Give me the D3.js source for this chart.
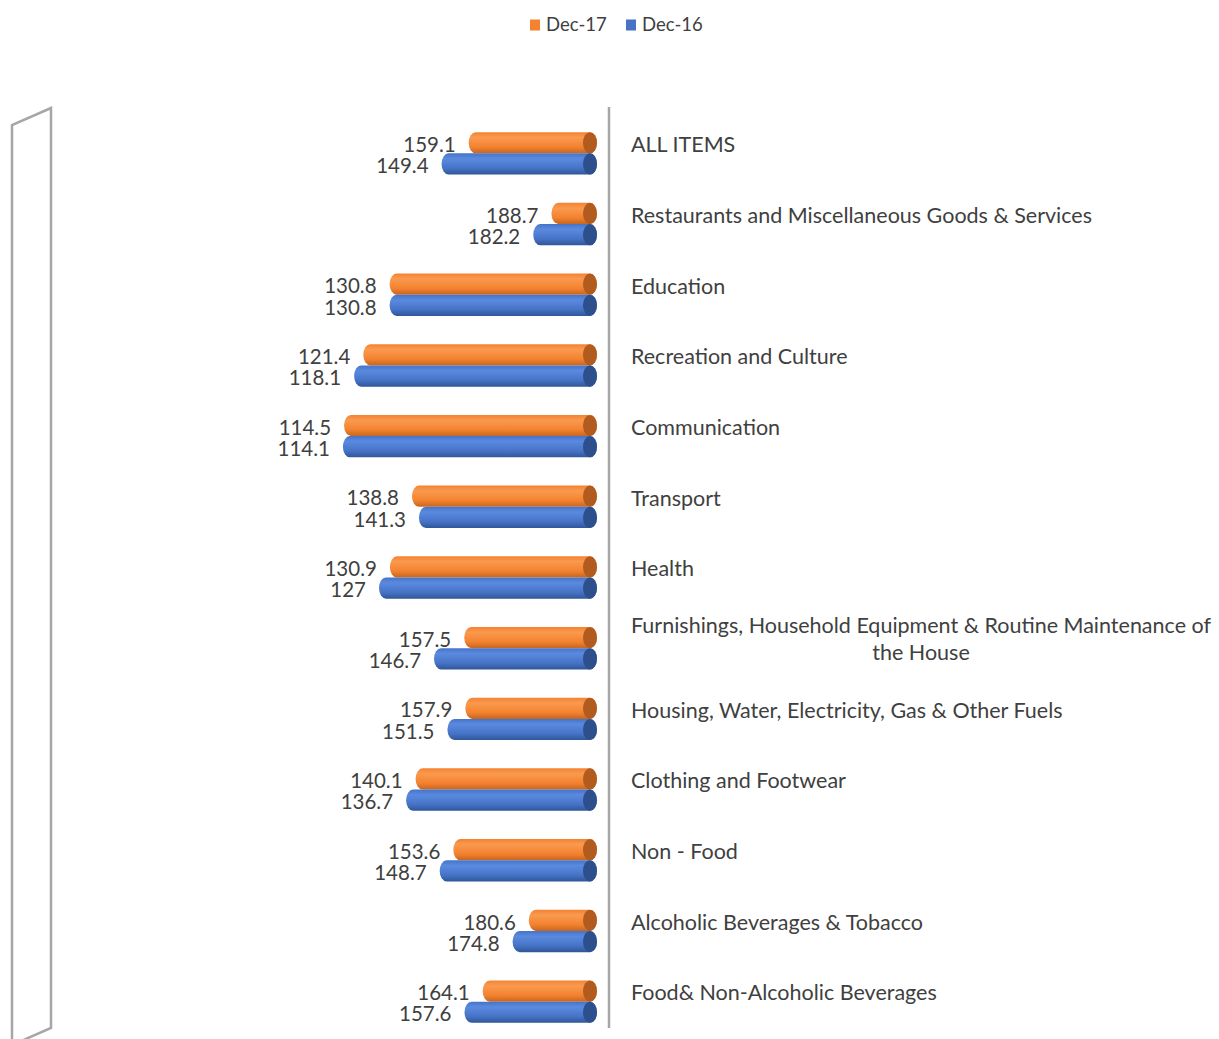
<!DOCTYPE html>
<html>
<head>
<meta charset="utf-8">
<script src="https://cdn.jsdelivr.net/npm/d3@7"></script>
<style>
  body { margin: 0; background: #fff; }
  svg { display: block; font-family: Lato, "Open Sans", sans-serif; }
</style>
</head>
<body>
<svg id="chart" width="1219" height="1039"></svg>
<script>
// categories, top to bottom as drawn
const categories = [
    'ALL ITEMS',
    'Restaurants and Miscellaneous Goods & Services',
    'Education',
    'Recreation and Culture',
    'Communication',
    'Transport',
    'Health',
    'Furnishings, Household Equipment & Routine Maintenance of the House',
    'Housing, Water, Electricity, Gas & Other Fuels',
    'Clothing and Footwear',
    'Non - Food',
    'Alcoholic Beverages & Tobacco',
    'Food& Non-Alcoholic Beverages'
];
const series = ['Dec-17', 'Dec-16'];
const dec17 = [159.1, 188.7, 130.8, 121.4, 114.5, 138.8, 130.9, 157.5, 157.9, 140.1, 153.6, 180.6, 164.1];
const dec16 = [149.4, 182.2, 130.8, 118.1, 114.1, 141.3, 127, 146.7, 151.5, 136.7, 148.7, 174.8, 157.6];

const palette = {
    'Dec-17': { light: '#f99a4f', mid: '#f4822f', dark: '#c7651f', cap: '#b15b1f' },
    'Dec-16': { light: '#5a8ae0', mid: '#4673c6', dark: '#2f5698', cap: '#2d4f8c' }
};

const svg = d3.select('#chart');
const textColor = '#404040';
const axisColor = '#a6a6a6';

// scales: bars run from the value out to the axis maximum on the right
const x = d3.scaleLinear().domain([0, 205]).range([24, 597]);
const y = d3.scaleBand().domain(categories).range([118, 1037])
    .paddingInner(0.4).paddingOuter(0.2);
const ySub = d3.scaleBand().domain(series).range([0, y.bandwidth()]);

// gradients for the cylinder bodies
const defs = svg.append('defs');
series.forEach((s, i) => {
    const g = defs.append('linearGradient')
        .attr('id', 'grad' + i)
        .attr('x1', 0).attr('y1', 0).attr('x2', 0).attr('y2', 1);
    g.append('stop').attr('offset', '0%').attr('stop-color', palette[s].mid);
    g.append('stop').attr('offset', '25%').attr('stop-color', palette[s].light);
    g.append('stop').attr('offset', '70%').attr('stop-color', palette[s].mid);
    g.append('stop').attr('offset', '100%').attr('stop-color', palette[s].dark);
});

// left floor panel (3D wall)
svg.append('path')
    .attr('d', 'M12,1045 L12,125 L51,108 L51,1028 Z')
    .attr('fill', 'none')
    .attr('stroke', axisColor)
    .attr('stroke-width', 2.5);

// category axis line
svg.append('line')
    .attr('x1', 609).attr('x2', 609)
    .attr('y1', 107).attr('y2', 1028)
    .attr('stroke', axisColor)
    .attr('stroke-width', 2.5);

const rows = categories.map((c, i) => ({
    cat: c,
    values: [
        { s: 'Dec-17', si: 0, v: dec17[i] },
        { s: 'Dec-16', si: 1, v: dec16[i] }
    ]
}));

const rx = 7;

function cylinderPath(x0, x1, top, h) {
    const ry = h / 2;
    return `M${x0 + rx},${top} L${x1 - rx},${top} A${rx},${ry} 0 0 1 ${x1 - rx},${top + h}`
        + ` L${x0 + rx},${top + h} A${rx},${ry} 0 0 1 ${x0 + rx},${top} Z`;
}

const group = svg.selectAll('g.row')
    .data(rows)
    .join('g')
    .attr('class', 'row')
    .attr('transform', (d) => `translate(0,${y(d.cat)})`);

const bar = group.selectAll('g.bar')
    .data((d) => d.values)
    .join('g')
    .attr('class', 'bar');

bar.append('path')
    .attr('d', (d) => cylinderPath(x(d.v), x.range()[1], ySub(d.s), ySub.bandwidth()))
    .attr('fill', (d) => `url(#grad${d.si})`);

bar.append('ellipse')
    .attr('cx', x.range()[1] - rx)
    .attr('cy', (d) => ySub(d.s) + ySub.bandwidth() / 2)
    .attr('rx', rx)
    .attr('ry', ySub.bandwidth() / 2)
    .attr('fill', (d) => palette[d.s].cap);

// value labels
bar.append('text')
    .attr('x', (d) => x(d.v) - 13)
    .attr('y', (d) => ySub(d.s) + ySub.bandwidth() / 2 + 4)
    .attr('text-anchor', 'end')
    .attr('dominant-baseline', 'middle')
    .attr('fill', textColor)
    .style('font-size', '20.5px')
    .text((d) => d.v);

// category labels, wrapped when too long
const maxW = 590;
group.each(function (d) {
    const g = d3.select(this);
    const t = g.append('text')
        .attr('fill', textColor)
        .style('font-size', '21.5px')
        .attr('dominant-baseline', 'middle');
    const cy = ySub('Dec-17') + ySub.bandwidth() / 2 + 4;
    t.text(d.cat);
    if (t.node().getComputedTextLength() <= maxW) {
        t.attr('x', 631).attr('y', cy);
        return;
    }
    const words = d.cat.split(' ');
    const lines = [];
    let line = [];
    t.text('');
    words.forEach((w) => {
        line.push(w);
        t.text(line.join(' '));
        if (t.node().getComputedTextLength() > maxW && line.length > 1) {
            line.pop();
            lines.push(line.join(' '));
            line = [w];
        }
    });
    lines.push(line.join(' '));
    t.text(lines[0]);
    const w0 = t.node().getComputedTextLength();
    t.text('');
    const lh = 27;
    const startY = cy - (lines.length - 1) * lh / 2;
    lines.forEach((l, k) => {
        t.append('tspan')
            .attr('x', 631 + w0 / 2)
            .attr('y', startY + k * lh)
            .attr('text-anchor', 'middle')
            .text(l);
    });
});

// legend
const legend = svg.append('g').attr('transform', 'translate(530,25)');
const legendX = [0, 96];
series.forEach((s, i) => {
    const item = legend.append('g').attr('transform', `translate(${legendX[i]},0)`);
    item.append('rect')
        .attr('x', 0).attr('y', -5.5)
        .attr('width', 10).attr('height', 11)
        .attr('fill', palette[s].mid);
    item.append('text')
        .attr('x', 16).attr('y', 1)
        .attr('dominant-baseline', 'middle')
        .attr('fill', textColor)
        .style('font-size', '18.5px')
        .text(s);
});
</script>
</body>
</html>
